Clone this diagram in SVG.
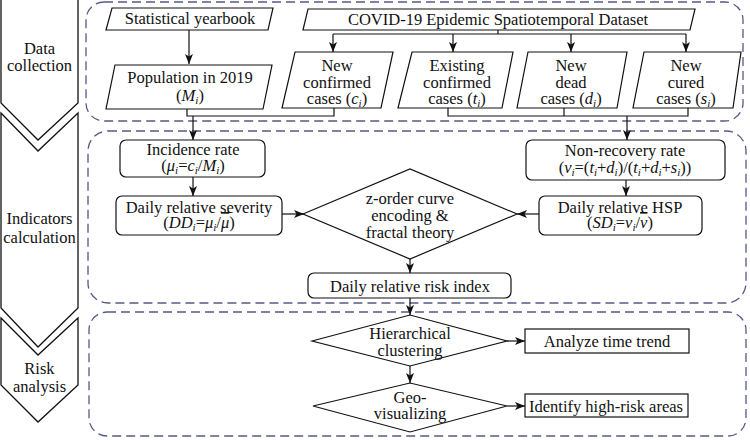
<svg xmlns="http://www.w3.org/2000/svg" width="750" height="440" viewBox="0 0 750 440">
<defs>
<marker id="ah" markerUnits="userSpaceOnUse" markerWidth="10" markerHeight="8" refX="10" refY="4" orient="auto">
<path d="M0,0 L10,4 L0,8 L2.5,4 Z" fill="#111"/>
</marker>
<style>
text{font-family:'Liberation Serif','Tinos','Times New Roman','Times','Noto Serif','DejaVu Serif','FreeSerif','Nimbus Roman','Nimbus Roman No9 L',serif;font-size:16.5px;fill:#111;text-anchor:middle}
.i{font-style:italic}
.s{font-size:11px;font-style:italic}
.box{fill:#fff;stroke:#111;stroke-width:1.2}
.chev{fill:#fff;stroke:#111;stroke-width:1.3}
.grp{fill:none;stroke:#555a82;stroke-width:1.3;stroke-dasharray:9 5}
.ln{fill:none;stroke:#111;stroke-width:1.2}
.ar{fill:none;stroke:#111;stroke-width:1.2;marker-end:url(#ah)}
</style>
</defs>
<rect width="750" height="440" fill="#fff"/>

<g id="stages">
<g id="stage-data">
<path class="chev" d="M1,-2 L1,103 L38,140 L78,103 L78,-2"/>
<text x="39.5" y="53.5">Data</text>
<text x="39.5" y="70.5">collection</text>
</g>
<g id="stage-indicators">
<path class="chev" d="M1,113 L38,151 L78,113 L78,308 L38,347 L1,308 Z"/>
<text x="39.5" y="223.5">Indicators</text>
<text x="39.5" y="242.5">calculation</text>
</g>
<g id="stage-risk">
<path class="chev" d="M1,318 L38,355 L78,318 L78,385 L38,422 L1,385 Z"/>
<text x="39.5" y="373.5">Risk</text>
<text x="39.5" y="391.5">analysis</text>
</g>
</g>

<g id="groups">
<rect id="group-data" class="grp" x="86" y="2" width="657" height="119" rx="18"/>
<rect id="group-indicators" class="grp" x="88" y="131" width="658" height="172" rx="20"/>
<rect id="group-risk" class="grp" x="89" y="312" width="657" height="124" rx="18"/>
</g>

<g id="connectors">
<line class="ar" x1="189" y1="30" x2="189" y2="64"/>
<polyline class="ln" points="498,30 498,34"/>
<polyline class="ln" points="333,34 686,34"/>
<line class="ar" x1="333" y1="34" x2="333" y2="52"/>
<line class="ar" x1="453" y1="34" x2="453" y2="52"/>
<line class="ar" x1="571" y1="34" x2="571" y2="52"/>
<line class="ar" x1="686" y1="34" x2="686" y2="52"/>
<polyline class="ln" points="187,109 187,116 334,116 334,108"/>
<line class="ar" x1="193" y1="116" x2="193" y2="140"/>
<polyline class="ln" points="448,108 448,116 688,116 688,108"/>
<line class="ln" x1="564" y1="108" x2="564" y2="116"/>
<line class="ar" x1="627" y1="116" x2="627" y2="140"/>
<line class="ar" x1="193" y1="177" x2="193" y2="196"/>
<line class="ar" x1="282" y1="214" x2="304" y2="214"/>
<line class="ar" x1="626" y1="180" x2="626" y2="196"/>
<line class="ar" x1="539" y1="214" x2="517" y2="214"/>
<line class="ar" x1="410" y1="259" x2="410" y2="273"/>
<line class="ar" x1="410" y1="298" x2="410" y2="315"/>
<line class="ar" x1="507" y1="341" x2="525" y2="341"/>
<line class="ar" x1="410" y1="366" x2="410" y2="383"/>
<line class="ar" x1="507" y1="406" x2="525" y2="406"/>
</g>

<g id="nodes">
<g id="yearbook">
<polygon class="box" points="112,8 273,8 268,30 106,30"/>
<text x="190" y="24">Statistical yearbook</text>
</g>
<g id="population">
<polygon class="box" points="115,65 272,65 263,109 106,109"/>
<text x="190" y="83">Population in 2019</text>
<text x="190" y="101">(<tspan class="i">M</tspan><tspan class="s" dy="3">i</tspan><tspan dy="-3">)</tspan></text>
</g>
<g id="dataset">
<polygon class="box" points="308,9 695,9 690,30 303,30"/>
<text x="498" y="25">COVID-19 Epidemic Spatiotemporal Dataset</text>
</g>
<g id="new-confirmed">
<polygon class="box" points="295,52 393,52 381,108 282,108"/>
<text x="337" y="71">New</text>
<text x="337" y="88">confirmed</text>
<text x="337" y="104">cases (<tspan class="i">c</tspan><tspan class="s" dy="3">i</tspan><tspan dy="-3">)</tspan></text>
</g>
<g id="existing-confirmed">
<polygon class="box" points="412,52 513,52 502,108 398,108"/>
<text x="457" y="71">Existing</text>
<text x="457" y="88">confirmed</text>
<text x="457" y="104">cases (<tspan class="i">t</tspan><tspan class="s" dy="3">i</tspan><tspan dy="-3">)</tspan></text>
</g>
<g id="new-dead">
<polygon class="box" points="528,52 627,52 617,108 517,108"/>
<text x="571" y="71">New</text>
<text x="571" y="88">dead</text>
<text x="571" y="104">cases (<tspan class="i">d</tspan><tspan class="s" dy="3">i</tspan><tspan dy="-3">)</tspan></text>
</g>
<g id="new-cured">
<polygon class="box" points="644,52 741,52 733,108 633,108"/>
<text x="686" y="71">New</text>
<text x="686" y="88">cured</text>
<text x="686" y="104">cases (<tspan class="i">s</tspan><tspan class="s" dy="3">i</tspan><tspan dy="-3">)</tspan></text>
</g>

<g id="incidence">
<rect class="box" x="120" y="140" width="145" height="37" rx="6"/>
<text x="193" y="154.5">Incidence rate</text>
<text x="193" y="170.5">(<tspan class="i">μ</tspan><tspan class="s" dy="3">i</tspan><tspan dy="-3">=</tspan><tspan class="i">c</tspan><tspan class="s" dy="3">i</tspan><tspan dy="-3">/</tspan><tspan class="i">M</tspan><tspan class="s" dy="3">i</tspan><tspan dy="-3">)</tspan></text>
</g>
<g id="severity">
<rect class="box" x="116" y="196" width="166" height="39" rx="6"/>
<text x="199" y="212.5">Daily relative severity</text>
<text x="199" y="228">(<tspan class="i">DD</tspan><tspan class="s" dy="3">i</tspan><tspan dy="-3">=</tspan><tspan class="i">μ</tspan><tspan class="s" dy="3">i</tspan><tspan dy="-3">/</tspan><tspan class="i" text-decoration="overline">μ</tspan>)</text>
</g>
<g id="zorder">
<polygon class="box" points="303,214 410,169 517,214 410,259"/>
<text x="410" y="203.5">z-order curve</text>
<text x="410" y="220.5">encoding &amp;</text>
<text x="410" y="238">fractal theory</text>
</g>
<g id="nonrecovery">
<rect class="box" x="526" y="140" width="199" height="40" rx="6"/>
<text x="625" y="155.5">Non-recovery rate</text>
<text x="625" y="172.5">(<tspan class="i">v</tspan><tspan class="s" dy="3">i</tspan><tspan dy="-3">=(</tspan><tspan class="i">t</tspan><tspan class="s" dy="3">i</tspan><tspan dy="-3">+</tspan><tspan class="i">d</tspan><tspan class="s" dy="3">i</tspan><tspan dy="-3">)/(</tspan><tspan class="i">t</tspan><tspan class="s" dy="3">i</tspan><tspan dy="-3">+</tspan><tspan class="i">d</tspan><tspan class="s" dy="3">i</tspan><tspan dy="-3">+</tspan><tspan class="i">s</tspan><tspan class="s" dy="3">i</tspan><tspan dy="-3">))</tspan></text>
</g>
<g id="hsp">
<rect class="box" x="539" y="196" width="163" height="39" rx="6"/>
<text x="620" y="212.5">Daily relative HSP</text>
<text x="620" y="228">(<tspan class="i">SD</tspan><tspan class="s" dy="3">i</tspan><tspan dy="-3">=</tspan><tspan class="i">v</tspan><tspan class="s" dy="3">i</tspan><tspan dy="-3">/</tspan><tspan class="i" text-decoration="overline">v</tspan>)</text>
</g>
<g id="riskindex">
<rect class="box" x="308" y="273" width="203" height="25" rx="6"/>
<text x="410" y="291.5">Daily relative risk index</text>
</g>

<g id="hierarchical">
<polygon class="box" points="312,341 410,315 507,341 410,366"/>
<text x="410" y="338.5">Hierarchical</text>
<text x="410" y="356">clustering</text>
</g>
<g id="timetrend">
<rect class="box" x="525" y="329" width="164" height="24"/>
<text x="607" y="346.5">Analyze time trend</text>
</g>
<g id="geovis">
<polygon class="box" points="313,406 410,383 507,406 410,432"/>
<text x="410" y="402.5">Geo-</text>
<text x="410" y="418.5">visualizing</text>
</g>
<g id="highrisk">
<rect class="box" x="525" y="394" width="163" height="23"/>
<text x="606" y="411.5">Identify high-risk areas</text>
</g>
</g>
</svg>
